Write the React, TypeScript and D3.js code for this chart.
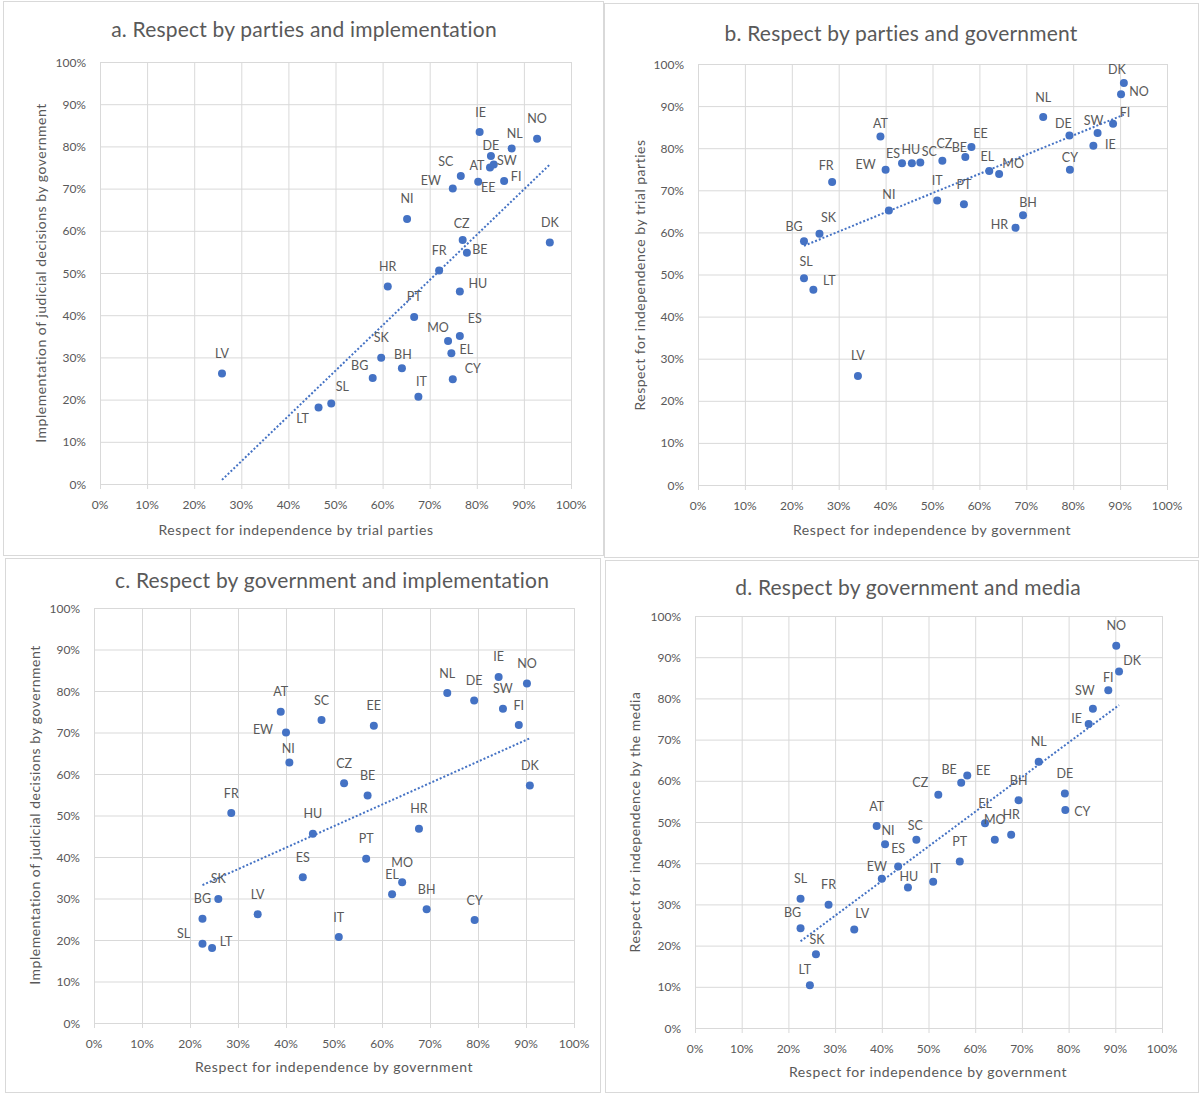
import React from 'react'
import * as d3 from 'd3'

// country codes and the four survey measures (share, %)
const countries = ['AT', 'BE', 'BG', 'BH', 'CY', 'CZ', 'DE', 'DK', 'EE', 'EL', 'ES', 'EW', 'FI', 'FR', 'HR', 'HU', 'IE', 'IT', 'LT', 'LV', 'MO', 'NI', 'NL', 'NO', 'PT', 'SC', 'SK', 'SL', 'SW']
const trialParties = [82.8, 77.9, 57.9, 64.1, 74.9, 77.0, 83.0, 95.5, 80.3, 74.6, 76.4, 74.9, 85.8, 72.0, 61.1, 76.4, 80.6, 67.6, 46.4, 25.9, 73.9, 65.2, 87.4, 92.8, 66.7, 76.6, 59.7, 49.1, 83.6]
const government = [38.9, 57.0, 22.6, 69.3, 79.3, 52.1, 79.2, 90.8, 58.3, 62.1, 43.5, 40.0, 88.5, 28.6, 67.7, 45.6, 84.3, 51.0, 24.6, 34.1, 64.2, 40.7, 73.6, 90.2, 56.7, 47.4, 25.9, 22.6, 85.2]
const implementation = [75.0, 54.8, 25.1, 27.4, 24.8, 57.8, 77.7, 57.2, 71.6, 31.0, 35.1, 70.0, 71.8, 50.6, 46.8, 45.6, 83.4, 20.7, 18.1, 26.2, 33.9, 62.8, 79.5, 81.8, 39.6, 73.0, 29.9, 19.1, 75.7]
const media = [49.0, 59.5, 24.2, 55.3, 52.9, 56.6, 56.9, 86.5, 61.3, 49.7, 39.2, 36.2, 82.0, 29.9, 46.9, 34.1, 73.8, 35.5, 10.4, 23.9, 45.7, 44.6, 64.6, 92.8, 40.4, 45.7, 17.9, 31.4, 77.5]
const tickValues = [0, 10, 20, 30, 40, 50, 60, 70, 80, 90, 100]

// label offsets (label centre relative to its point); default is straight above
const labelsA: Record<string, [number, number]> = {
  IE: [1, -20], NL: [3, -15], DE: [0, -11], SW: [13, -4], AT: [-13, -2], SC: [-15, -14], EE: [10, 6], FI: [12, -5],
  EW: [-22, -8], CZ: [-1, -17], BE: [13, -3], HU: [18, -8], ES: [15, -17], MO: [-10, -13], EL: [15, -4],
  BH: [1, -14], BG: [-13, -13], CY: [20, -11], IT: [3, -15], SL: [11, -17], LT: [-16, 11],
}
const labelsB: Record<string, [number, number]> = {
  DK: [-7, -13], NO: [18, -3], FI: [12, -11], SW: [-4, -13], DE: [-6, -12], IE: [17, -1], AT: [0, -13], EE: [9, -13],
  BE: [-6, -10], CZ: [2, -17], ES: [-9, -10], HU: [-1, -14], SC: [9, -11], EW: [-20, -5], CY: [0, -12], EL: [-2, -14],
  MO: [14, -10], FR: [-6, -16], NI: [0, -16], BH: [5, -13], HR: [-16, -3], SK: [9, -16], BG: [-10, -15], SL: [2, -17], LT: [16, -9],
}
const labelsC: Record<string, [number, number]> = {
  EW: [-23, -3], NI: [-1, -14], SL: [-19, -10], LT: [14, -6],
}
const labelsD: Record<string, [number, number]> = {
  DK: [13, -11], FI: [0, -13], SW: [-8, -18], IE: [-12, -5], EE: [16, -5], BE: [-12, -13], CZ: [-18, -12], CY: [17, 1],
  NI: [3, -14], SC: [-1, -14], ES: [0, -18], EW: [-5, -12], IT: [2, -13], HU: [1, -11], BG: [-8, -16], LV: [8, -16],
  SK: [1, -15], LT: [-5, -16],
}

const BLUE = '#4472C4'
const GRID = '#d9d9d9'
const TEXT = '#595959'
const FONT = 'Lato, "Open Sans", sans-serif'

interface PanelProps {
  box: [number, number, number, number]
  plot: { l: number; r: number; t: number; b: number }
  title: string
  titlePos: [number, number]
  xTitle: string
  xTitlePos: [number, number]
  yTitle: string
  yTitlePos: [number, number]
  xs: number[]
  ys: number[]
  labels: Record<string, [number, number]>
}

const Panel = (p: PanelProps) => {
  const x = d3.scaleLinear().domain([0, 100]).range([p.plot.l, p.plot.r])
  const y = d3.scaleLinear().domain([0, 100]).range([p.plot.b, p.plot.t])

  // least-squares trend line, drawn over the x range of the data
  const mx = d3.mean(p.xs) as number
  const my = d3.mean(p.ys) as number
  const sxy = d3.sum(p.xs, (v, i) => (v - mx) * (p.ys[i] - my))
  const sxx = d3.sum(p.xs, (v) => (v - mx) * (v - mx))
  const slope = sxy / sxx
  const icpt = my - slope * mx
  const [x0, x1] = d3.extent(p.xs) as [number, number]
  const trend = d3.line<number>().x((v) => x(v)).y((v) => y(icpt + slope * v))([x0, x1]) as string

  return (
    <g>
      <rect x={p.box[0] + 0.5} y={p.box[1] + 0.5} width={p.box[2]} height={p.box[3]} fill="#fff" stroke={GRID} />
      <text
        x={p.titlePos[0]}
        y={p.titlePos[1]}
        textAnchor="middle"
        dominantBaseline="central"
        fontSize={21}
        letterSpacing={0.2}
        fill={TEXT}
      >
        {p.title}
      </text>
      {tickValues.map((t) => (
        <g key={'g' + t}>
          <line x1={x(t) + 0.5} x2={x(t) + 0.5} y1={p.plot.t} y2={p.plot.b + 5} stroke={GRID} />
          <line x1={p.plot.l} x2={p.plot.r} y1={y(t) + 0.5} y2={y(t) + 0.5} stroke={GRID} />
          <text x={x(t)} y={p.plot.b + 20} textAnchor="middle" dominantBaseline="central" fontSize={12} fill={TEXT}>
            {t + '%'}
          </text>
          <text x={p.plot.l - 14} y={y(t)} textAnchor="end" dominantBaseline="central" fontSize={12} fill={TEXT}>
            {t + '%'}
          </text>
        </g>
      ))}
      <text
        x={p.xTitlePos[0]}
        y={p.xTitlePos[1]}
        textAnchor="middle"
        dominantBaseline="central"
        fontSize={14}
        letterSpacing={0.6}
        fill={TEXT}
      >
        {p.xTitle}
      </text>
      <text
        transform={`translate(${p.yTitlePos[0]},${p.yTitlePos[1]}) rotate(-90)`}
        textAnchor="middle"
        dominantBaseline="central"
        fontSize={14}
        letterSpacing={0.5}
        fill={TEXT}
      >
        {p.yTitle}
      </text>
      {countries.map((c, i) => (
        <circle key={'p' + c} cx={x(p.xs[i])} cy={y(p.ys[i])} r={4} fill={BLUE} />
      ))}
      <path d={trend} fill="none" stroke={BLUE} strokeWidth={2} strokeDasharray="2 2" />
      {countries.map((c, i) => {
        const off = p.labels[c] || [0, -20]
        return (
          <text
            key={'l' + c}
            x={x(p.xs[i]) + off[0]}
            y={y(p.ys[i]) + off[1]}
            textAnchor="middle"
            dominantBaseline="central"
            fontSize={12.5}
            fill={TEXT}
          >
            {c}
          </text>
        )
      })}
    </g>
  )
}

const App = () => {
  return (
    <svg
      width={1200}
      height={1093}
      style={{ position: 'absolute', left: 0, top: 0, display: 'block', background: '#fff' }}
      fontFamily={FONT}
    >
      <Panel
        box={[3, 1, 600, 554]}
        plot={{ l: 100, r: 571, t: 62, b: 484 }}
        title="a. Respect by parties and implementation"
        titlePos={[304, 28]}
        xTitle="Respect for independence by trial parties"
        xTitlePos={[296, 529]}
        yTitle="Implementation of judicial decisions by government"
        yTitlePos={[40, 273]}
        xs={trialParties}
        ys={implementation}
        labels={labelsA}
      />
      <Panel
        box={[604, 3, 594, 554]}
        plot={{ l: 698, r: 1167, t: 64, b: 485 }}
        title="b. Respect by parties and government"
        titlePos={[901, 32]}
        xTitle="Respect for independence by government"
        xTitlePos={[932, 529]}
        yTitle="Respect for independence by trial parties"
        yTitlePos={[639, 275]}
        xs={government}
        ys={trialParties}
        labels={labelsB}
      />
      <Panel
        box={[5, 558, 595, 534]}
        plot={{ l: 94, r: 574, t: 608, b: 1023 }}
        title="c. Respect by government and implementation"
        titlePos={[332, 579]}
        xTitle="Respect for independence by government"
        xTitlePos={[334, 1066]}
        yTitle="Implementation of judicial decisions by government"
        yTitlePos={[34, 815]}
        xs={government}
        ys={implementation}
        labels={labelsC}
      />
      <Panel
        box={[605, 560, 593, 532]}
        plot={{ l: 695, r: 1162, t: 616, b: 1028 }}
        title="d. Respect by government and media"
        titlePos={[908, 586]}
        xTitle="Respect for independence by government"
        xTitlePos={[928, 1071]}
        yTitle="Respect for independence by the media"
        yTitlePos={[634, 822]}
        xs={government}
        ys={media}
        labels={labelsD}
      />
    </svg>
  )
}

export default App
